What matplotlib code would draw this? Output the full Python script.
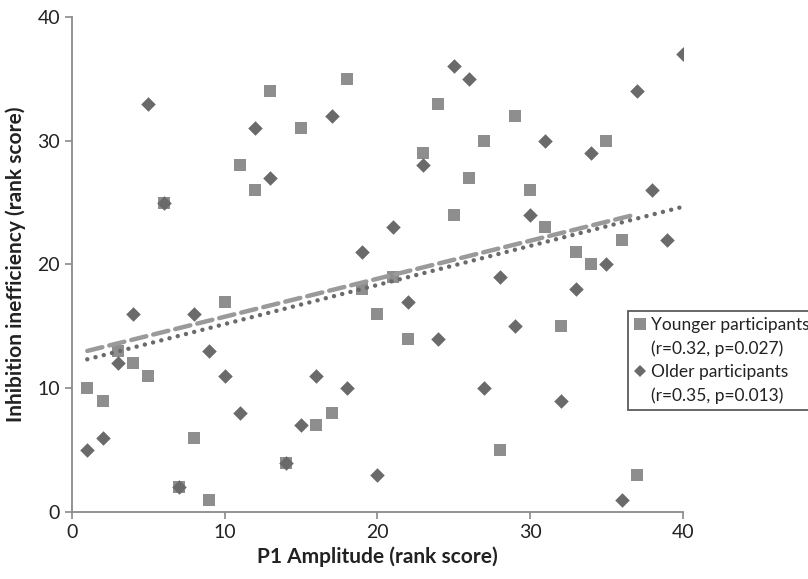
import matplotlib
matplotlib.use("Agg")
import matplotlib.pyplot as plt
from matplotlib.lines import Line2D
import numpy as np

# Rank scores.
young_x = list(range(1, 38))
young_y = [10, 9, 13, 12, 11, 25, 2, 6, 1, 17, 28, 26, 34, 4, 31, 7, 8, 35, 18, 16,
           19, 14, 29, 33, 24, 27, 30, 5, 32, 26, 23, 15, 21, 20, 30, 22, 3]
old_x = list(range(1, 41))
old_y = [5, 6, 12, 16, 33, 25, 2, 16, 13, 11, 8, 31, 27, 4, 7, 11, 32, 10, 21, 3,
         23, 17, 28, 14, 36, 35, 10, 19, 15, 24, 30, 9, 18, 29, 20, 1, 34, 26, 22, 37]
young_label = ["Younger participants", "(r=0.32, p=0.027)"]
old_label = ["Older participants", "(r=0.35, p=0.013)"]
ticks = [0, 10, 20, 30, 40]

C_YOUNG = "#8e8e8e"; C_OLD = "#6a6a6a"; AXIS = "#8a8a8a"; INK = "#222222"
plt.rcParams.update({"font.family": ["Lato", "DejaVu Sans"], "font.size": 11})

fig = plt.figure(figsize=(8.08, 5.79), dpi=100)
ax = fig.add_axes([0.0891, 0.1157, 0.7559, 0.855])

ax.scatter(young_x, young_y, marker="s", s=80, color=C_YOUNG, lw=0, zorder=3)
ax.scatter(old_x, old_y, marker="D", s=55, color=C_OLD, lw=0, zorder=4)

# Least-squares trendlines from the data, as in the original spreadsheet.
for xs, ys, color, style in ((young_x, young_y, "#9a9a9a", (0, (3.5, 1.6))),
                             (old_x, old_y, C_OLD, (0, (0.01, 1.9)))):
    k, b = np.polyfit(xs, ys, 1)
    xx = np.array([xs[0], xs[-1]])
    ax.plot(xx, k * xx + b, color=color, lw=3.2, ls=style,
            solid_capstyle="round", dash_capstyle="round", zorder=5)

ax.set_xlim(0, 40); ax.set_ylim(0, 40)
ax.set_xticks(ticks); ax.set_yticks(ticks)
for side in ("top", "right"):
    ax.spines[side].set_visible(False)
for side in ("left", "bottom"):
    ax.spines[side].set_color(AXIS); ax.spines[side].set_linewidth(1.3)
ax.tick_params(colors=AXIS, labelcolor=INK, labelsize=14, length=5, width=1.2)
ax.set_xlabel("P1 Amplitude (rank score)", fontsize=15, fontweight="bold", color=INK,
              labelpad=4)
ax.set_ylabel("Inhibition inefficiency (rank score)", fontsize=15, fontweight="bold",
              color=INK, labelpad=8)

blank = Line2D([], [], ls="none")
handles = [Line2D([], [], ls="none", marker="s", ms=8, color=C_YOUNG, mew=0), blank,
           Line2D([], [], ls="none", marker="D", ms=6.5, color=C_OLD, mew=0), blank]
labels = young_label + old_label
leg = ax.legend(handles, labels, loc="upper left", bbox_to_anchor=(0.911, 0.406),
                fontsize=12.5, frameon=True, fancybox=False, borderpad=0.35,
                handlelength=0.6, handletextpad=0.35, labelspacing=0.42,
                borderaxespad=0)
leg.get_frame().set_edgecolor("#333333"); leg.get_frame().set_linewidth(1.3)
leg.set_zorder(10)
for t in leg.get_texts():
    t.set_color(INK)

fig.savefig("out.png", dpi=100)
